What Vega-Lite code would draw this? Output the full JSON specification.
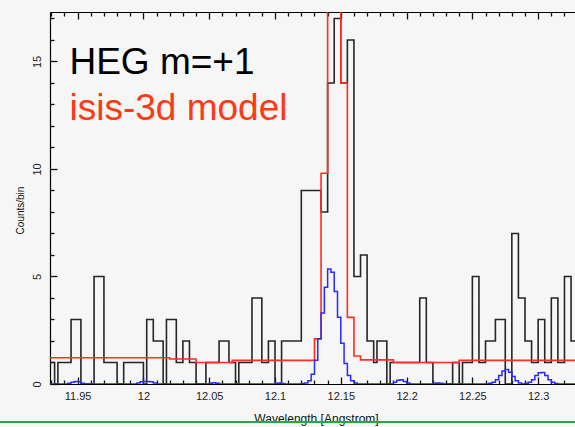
{
  "$schema": "https://vega.github.io/schema/vega-lite/v6.json",
  "width": 525,
  "height": 372,
  "autosize": "none",
  "padding": {"left": 50, "top": 12, "right": 0, "bottom": 43},
  "background": "#f6f6f6",
  "config": {
    "view": {"stroke": null},
    "axis": {"labelFont": "Liberation Sans", "titleFont": "Liberation Sans", "domainColor": "#000", "tickColor": "#111", "grid": false, "domainWidth": 1.2, "tickWidth": 1.3, "labelOverlap": false}
  },
  "datasets": {
    "hist": [
      {"w": 11.925, "c": 1}, {"w": 11.9325, "c": 0}, {"w": 11.935, "c": 1}, {"w": 11.945, "c": 3},
      {"w": 11.9525, "c": 0}, {"w": 11.9625, "c": 5}, {"w": 11.97, "c": 1}, {"w": 11.98, "c": 0},
      {"w": 11.985, "c": 1}, {"w": 12.0, "c": 0}, {"w": 12.0025, "c": 3}, {"w": 12.0075, "c": 2},
      {"w": 12.015, "c": 0}, {"w": 12.0175, "c": 3}, {"w": 12.025, "c": 1}, {"w": 12.03, "c": 2},
      {"w": 12.035, "c": 1}, {"w": 12.04, "c": 0}, {"w": 12.0475, "c": 1}, {"w": 12.0575, "c": 2},
      {"w": 12.065, "c": 1}, {"w": 12.07, "c": 0}, {"w": 12.0725, "c": 1}, {"w": 12.0825, "c": 4},
      {"w": 12.09, "c": 1}, {"w": 12.095, "c": 2}, {"w": 12.1, "c": 0}, {"w": 12.105, "c": 2},
      {"w": 12.12, "c": 9}, {"w": 12.135, "c": 8}, {"w": 12.14, "c": 14}, {"w": 12.145, "c": 17},
      {"w": 12.15, "c": 14}, {"w": 12.155, "c": 16}, {"w": 12.16, "c": 5}, {"w": 12.165, "c": 6},
      {"w": 12.17, "c": 2}, {"w": 12.175, "c": 1}, {"w": 12.1775, "c": 2}, {"w": 12.185, "c": 0},
      {"w": 12.1875, "c": 1}, {"w": 12.21, "c": 4}, {"w": 12.215, "c": 1}, {"w": 12.22, "c": 0},
      {"w": 12.235, "c": 1}, {"w": 12.24, "c": 0}, {"w": 12.2425, "c": 1}, {"w": 12.25, "c": 5},
      {"w": 12.255, "c": 1}, {"w": 12.26, "c": 2}, {"w": 12.2675, "c": 3}, {"w": 12.275, "c": 0},
      {"w": 12.28, "c": 7}, {"w": 12.285, "c": 4}, {"w": 12.29, "c": 2}, {"w": 12.295, "c": 1},
      {"w": 12.3, "c": 3}, {"w": 12.305, "c": 1}, {"w": 12.31, "c": 4}, {"w": 12.315, "c": 1},
      {"w": 12.32, "c": 5}, {"w": 12.325, "c": 2}, {"w": 12.335, "c": 2}
    ],
    "model": [
      {"w": 11.925, "c": 1.22}, {"w": 12.02, "c": 1.16}, {"w": 12.04, "c": 1.0}, {"w": 12.0675, "c": 1.1},
      {"w": 12.13, "c": 2.1}, {"w": 12.135, "c": 9.8}, {"w": 12.14, "c": 30}, {"w": 12.15, "c": 14},
      {"w": 12.155, "c": 3.1}, {"w": 12.16, "c": 1.3}, {"w": 12.165, "c": 1.12}, {"w": 12.19, "c": 1.0},
      {"w": 12.24, "c": 1.1}, {"w": 12.335, "c": 1.1}
    ],
    "comp": [
      {"w": 11.925, "c": 0}, {"w": 11.9425, "c": 0.03}, {"w": 11.945, "c": 0.08}, {"w": 11.9475, "c": 0.12},
      {"w": 11.95, "c": 0.1}, {"w": 11.9525, "c": 0.04}, {"w": 11.955, "c": 0}, {"w": 11.995, "c": 0.05},
      {"w": 11.9975, "c": 0.1}, {"w": 12.0, "c": 0.12}, {"w": 12.0025, "c": 0.12}, {"w": 12.005, "c": 0.1},
      {"w": 12.0075, "c": 0.05}, {"w": 12.01, "c": 0}, {"w": 12.05, "c": 0.04}, {"w": 12.0525, "c": 0.06},
      {"w": 12.055, "c": 0.03}, {"w": 12.0575, "c": 0}, {"w": 12.1, "c": 0.03}, {"w": 12.1025, "c": 0.05},
      {"w": 12.105, "c": 0.02}, {"w": 12.1075, "c": 0}, {"w": 12.12, "c": 0.02}, {"w": 12.1225, "c": 0.05},
      {"w": 12.125, "c": 0.15}, {"w": 12.1275, "c": 0.45}, {"w": 12.13, "c": 1.1}, {"w": 12.1325, "c": 2.1},
      {"w": 12.135, "c": 3.3}, {"w": 12.1375, "c": 4.5}, {"w": 12.14, "c": 5.35}, {"w": 12.1425, "c": 5.2},
      {"w": 12.145, "c": 4.3}, {"w": 12.1475, "c": 3.1}, {"w": 12.15, "c": 1.9}, {"w": 12.1525, "c": 0.95},
      {"w": 12.155, "c": 0.4}, {"w": 12.1575, "c": 0.15}, {"w": 12.16, "c": 0.05}, {"w": 12.1625, "c": 0},
      {"w": 12.19, "c": 0.08}, {"w": 12.1925, "c": 0.18}, {"w": 12.195, "c": 0.2}, {"w": 12.1975, "c": 0.12},
      {"w": 12.2, "c": 0.05}, {"w": 12.2025, "c": 0}, {"w": 12.22, "c": 0.03}, {"w": 12.2225, "c": 0.05},
      {"w": 12.225, "c": 0.03}, {"w": 12.2275, "c": 0}, {"w": 12.2625, "c": 0.03}, {"w": 12.265, "c": 0.08},
      {"w": 12.2675, "c": 0.2}, {"w": 12.27, "c": 0.4}, {"w": 12.2725, "c": 0.6}, {"w": 12.275, "c": 0.68},
      {"w": 12.2775, "c": 0.55}, {"w": 12.28, "c": 0.35}, {"w": 12.2825, "c": 0.15}, {"w": 12.285, "c": 0.05},
      {"w": 12.2875, "c": 0}, {"w": 12.29, "c": 0.03}, {"w": 12.2925, "c": 0.08}, {"w": 12.295, "c": 0.2},
      {"w": 12.2975, "c": 0.4}, {"w": 12.3, "c": 0.52}, {"w": 12.3025, "c": 0.54}, {"w": 12.305, "c": 0.4},
      {"w": 12.3075, "c": 0.2}, {"w": 12.31, "c": 0.08}, {"w": 12.3125, "c": 0.02}, {"w": 12.315, "c": 0},
      {"w": 12.335, "c": 0}
    ]
  },
  "layer": [
    {
      "data": {"name": "hist"},
      "mark": {"type": "line", "interpolate": "step-after", "color": "#262626", "strokeWidth": 1.6, "clip": true},
      "encoding": {
        "x": {
          "field": "w", "type": "quantitative",
          "scale": {"domain": [11.929, 12.328], "nice": false, "zero": false},
          "axis": {
            "orient": "bottom",
            "values": [11.95, 12.0, 12.05, 12.1, 12.15, 12.2, 12.25, 12.3],
            "labelExpr": "toString(round(datum.value*100)/100)",
            "ticks": false,
            "tickSize": 0,
            "labelPadding": 6,
            "labelFontSize": 11,
            "labelColor": "#222",
            "labelFlush": false,
            "title": "Wavelength [Angstrom]",
            "titleFontSize": 12,
            "titleFontWeight": "normal",
            "titleColor": "#111",
            "titleX": 266,
            "titleY": 34,
            "titleBaseline": "middle",
            "titleAlign": "center"
          }
        },
        "y": {
          "field": "c", "type": "quantitative",
          "scale": {"domain": [0, 17.3], "nice": false},
          "axis": {
            "orient": "left",
            "values": [0, 5, 10, 15],
            "ticks": false,
            "tickSize": 0,
            "labelAngle": -90,
            "labelPadding": 8,
            "labelFontSize": 11,
            "labelColor": "#222",
            "labelFlush": false,
            "title": "Counts/bin",
            "titleFontSize": 10,
            "titleFontWeight": "normal",
            "titleColor": "#111",
            "titleX": -30,
            "titleY": 198,
            "titleAlign": "center",
            "titleBaseline": "middle"
          }
        }
      }
    },
    {
      "data": {"name": "model"},
      "mark": {"type": "line", "interpolate": "step-after", "color": "#ff2e1f", "strokeWidth": 1.6, "clip": true},
      "encoding": {
        "x": {
          "field": "w", "type": "quantitative",
          "axis": {
            "orient": "top",
            "offset": -372,
            "domain": false,
            "labels": false,
            "title": null,
            "ticks": true,
            "values": [11.95, 12.0, 12.05, 12.1, 12.15, 12.2, 12.25, 12.3],
            "tickSize": 7
          }
        },
        "y": {
          "field": "c", "type": "quantitative",
          "axis": {
            "orient": "right",
            "offset": -525,
            "domain": false,
            "labels": false,
            "title": null,
            "ticks": true,
            "values": [0, 5, 10, 15],
            "tickSize": 7
          }
        }
      }
    },
    {
      "data": {"name": "comp"},
      "mark": {"type": "line", "interpolate": "step-after", "color": "#2a2aff", "strokeWidth": 1.5, "clip": true},
      "encoding": {
        "x": {
          "field": "w", "type": "quantitative",
          "axis": {
            "orient": "bottom",
            "offset": -372,
            "domain": true,
            "labels": false,
            "title": null,
            "ticks": true,
            "values": [11.95, 12.0, 12.05, 12.1, 12.15, 12.2, 12.25, 12.3],
            "tickSize": 7
          }
        },
        "y": {"field": "c", "type": "quantitative", "axis": null}
      }
    },
    {
      "data": {"values": [{}]},
      "mark": {"type": "text", "text": "HEG m=+1", "font": "Liberation Sans", "fontSize": 37, "color": "#000", "align": "left", "baseline": "alphabetic"},
      "encoding": {
        "x": {
          "datum": 11.9438, "type": "quantitative",
          "axis": {
            "orient": "top",
            "offset": -372,
            "domain": false,
            "labels": false,
            "title": null,
            "ticks": true,
            "values": [11.93, 11.94, 11.96, 11.97, 11.98, 11.99, 12.01, 12.02, 12.03, 12.04, 12.06, 12.07, 12.08, 12.09, 12.11, 12.12, 12.13, 12.14, 12.16, 12.17, 12.18, 12.19, 12.21, 12.22, 12.23, 12.24, 12.26, 12.27, 12.28, 12.29, 12.31, 12.32],
            "tickSize": 4
          }
        },
        "y": {
          "datum": 14.42, "type": "quantitative",
          "axis": {
            "orient": "right",
            "offset": -525,
            "domain": false,
            "labels": false,
            "title": null,
            "ticks": true,
            "values": [1, 2, 3, 4, 6, 7, 8, 9, 11, 12, 13, 14, 16, 17],
            "tickSize": 4
          }
        }
      }
    },
    {
      "data": {"values": [{}]},
      "mark": {"type": "text", "text": "isis-3d model", "font": "Liberation Sans", "fontSize": 37, "color": "#ff3a12", "align": "left", "baseline": "alphabetic"},
      "encoding": {
        "x": {
          "datum": 11.9438, "type": "quantitative",
          "axis": {
            "orient": "bottom",
            "offset": -372,
            "domain": false,
            "labels": false,
            "title": null,
            "ticks": true,
            "values": [11.93, 11.94, 11.96, 11.97, 11.98, 11.99, 12.01, 12.02, 12.03, 12.04, 12.06, 12.07, 12.08, 12.09, 12.11, 12.12, 12.13, 12.14, 12.16, 12.17, 12.18, 12.19, 12.21, 12.22, 12.23, 12.24, 12.26, 12.27, 12.28, 12.29, 12.31, 12.32],
            "tickSize": 4
          }
        },
        "y": {"datum": 12.28, "type": "quantitative", "axis": null}
      }
    },
    {
      "data": {"values": [{}]},
      "mark": {"type": "rule", "color": "#27a844", "strokeWidth": 2, "clip": false},
      "encoding": {
        "x": {"datum": 11.88, "type": "quantitative", "axis": null},
        "x2": {"datum": 12.34},
        "y": {"datum": -1.77, "type": "quantitative", "axis": null}
      }
    }
  ],
  "resolve": {"axis": {"x": "independent", "y": "independent"}}
}
